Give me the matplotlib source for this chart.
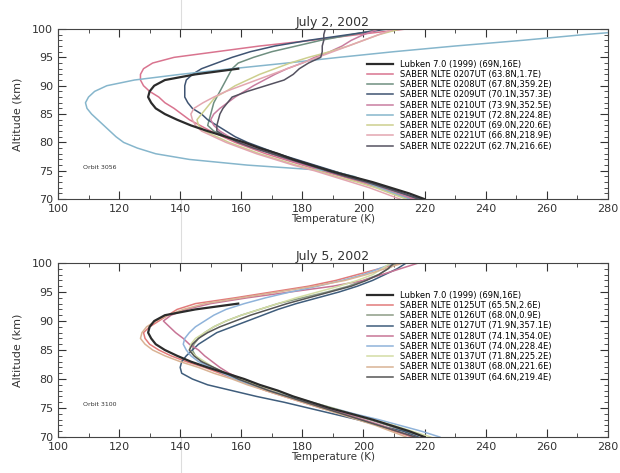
import matplotlib
matplotlib.use('Agg')
import matplotlib.pyplot as plt
from matplotlib.lines import Line2D
from matplotlib.ticker import MultipleLocator

# altitude grid (km) shared by the SABER profiles
alt_km = list(range(70, 101))

# Lubken 7.0 (1999) climatology, 70-93 km
lubken_alt = list(range(70, 94))
lubken_T = [220, 215, 209, 203, 196, 189, 183, 177, 172, 166, 161, 155, 149, 143.5,
            139, 135, 132, 130.5, 129.5, 130, 131.5, 135, 145, 159]

# ---- July 2, 2002 (orbit 3056) ----
jul2_labels = ['SABER NLTE 0207UT (63.8N,1.7E)', 'SABER NLTE 0208UT (67.8N,359.2E)',
               'SABER NLTE 0209UT (70.1N,357.3E)', 'SABER NLTE 0210UT (73.9N,352.5E)',
               'SABER NLTE 0219UT (72.8N,224.8E)', 'SABER NLTE 0220UT (69.0N,220.6E)',
               'SABER NLTE 0221UT (66.8N,218.9E)', 'SABER NLTE 0222UT (62.7N,216.6E)']
jul2_colors = ['#d9748f', '#6f8f80', '#3f5472', '#c97da0', '#86b6cc', '#cdcf8e', '#e3a6b0', '#555260']

t_0207 = [216, 210, 205, 199, 193, 186, 180, 174, 168, 163, 158, 154, 150, 146.5, 143, 140.5,
          138, 135, 133, 130, 128, 127, 127, 128, 131, 138, 152, 166, 183, 198, 214]
t_0208 = [218, 212, 207, 201, 195, 188, 182, 176, 170, 165, 160, 155, 151, 149, 149.5, 150,
          150.5, 151, 152, 153, 154, 155, 156, 157, 159, 164, 170, 178, 186, 196, 206]
t_0209 = [219, 213, 208, 202, 196, 190, 184, 178, 172, 167, 162, 158, 155, 152, 149, 147,
          144, 142.5, 141.5, 141.5, 141.5, 142, 144, 147, 152, 157, 163, 171, 182, 195, 208]
t_0210 = [217, 211, 206, 200, 194, 187, 181, 175, 170, 165, 160, 156, 153, 151, 150, 151,
          153, 155.5, 158, 161, 164, 167.5, 171, 175, 180, 184, 189, 193, 196, 200, 205]
t_0219 = [215, 210, 205, 201, 197, 189, 162, 143, 132, 126, 121.5, 119, 117, 115, 113, 111,
          109.5, 109, 110, 112, 116, 125, 140, 157, 175, 192, 210, 230, 252, 272, 295]
t_0220 = [214, 209, 204, 198, 191, 185, 178, 172, 166, 161, 156, 152, 148, 146, 145.5, 147,
          148.5, 150, 151.5, 155, 158, 162, 166, 171, 176, 182, 189, 195, 200, 205, 212]
t_0221 = [212, 207, 202, 196, 190, 184, 177, 171, 165, 160, 155, 151, 147, 145, 144, 143.5,
          144.5, 147.5, 151, 155, 160, 165, 170, 175, 180, 185, 190, 195, 200, 205, 210]
t_0222 = [218, 213, 207, 201, 194, 188, 182, 176, 170, 164, 159, 155, 152, 152, 152.5, 153,
          154, 155.5, 157, 162, 168, 174, 177, 179, 182, 186, 186.5, 186.5, 187, 187, 187.5]
jul2_T = [t_0207, t_0208, t_0209, t_0210, t_0219, t_0220, t_0221, t_0222]

# ---- July 5, 2002 (orbit 3100) ----
jul5_labels = ['SABER NLTE 0125UT (65.5N,2.6E)', 'SABER NLTE 0126UT (68.0N,0.9E)',
               'SABER NLTE 0127UT (71.9N,357.1E)', 'SABER NLTE 0128UT (74.1N,354.0E)',
               'SABER NLTE 0136UT (74.0N,228.4E)', 'SABER NLTE 0137UT (71.8N,225.2E)',
               'SABER NLTE 0138UT (68.0N,221.6E)', 'SABER NLTE 0139UT (64.6N,219.4E)']
jul5_colors = ['#e27a7a', '#8d9d86', '#3f5d7c', '#c77596', '#8fb3da', '#d3dda4', '#d9b394', '#555555']

t_0125 = [216, 210, 205, 199, 193, 186, 180, 174, 168, 163, 158, 153, 148, 142, 137, 133,
          130, 128.5, 128, 130, 133, 136, 139, 145, 158, 170, 182, 191, 198, 205, 212]
t_0126 = [220, 214, 208, 202, 195, 189, 182, 176, 170, 164, 159, 154, 150, 147, 145, 144,
          144.5, 146, 148, 151, 155, 160, 166, 172, 180, 188, 195, 200, 205, 208, 211]
t_0127 = [218, 213, 205, 198, 190, 182, 174, 165, 157, 149, 144, 140.5, 140, 140.5, 142, 144,
          146, 149, 152, 157, 162, 167, 172, 178, 185, 192, 198, 203, 207, 211, 214]
t_0128 = [217, 211, 206, 200, 194, 188, 181, 175, 170, 165, 160, 156, 153, 150.5, 148, 146,
          143, 141, 138.5, 136.5, 134.5, 137, 142, 150, 162, 176, 190, 200, 206, 212, 218]
t_0136 = [225, 219, 212, 205, 197, 190, 183, 176, 169, 163, 158, 154, 150, 146, 143.5, 142,
          141, 141.5, 143, 145, 148, 151, 155, 161, 168, 176, 185, 193, 200, 205, 210]
t_0137 = [222, 216, 210, 203, 196, 190, 183, 177, 171, 165, 160, 155, 151, 148, 145, 143,
          143.5, 145, 148, 151, 155, 160, 166, 172, 178, 185, 192, 198, 203, 206, 209]
t_0138 = [214, 209, 204, 198, 192, 186, 180, 174, 168, 162, 157, 151, 146, 140, 135, 131,
          128.5, 127, 127.5, 129, 132, 136, 141, 148, 160, 172, 184, 194, 201, 207, 213]
t_0139 = [217, 211, 205, 199, 193, 187, 181, 175, 169, 164, 159, 155, 151, 147, 144.5, 143,
          144, 146, 149, 153, 158, 163, 169, 175, 182, 189, 196, 201, 205, 208, 210]
jul5_T = [t_0125, t_0126, t_0127, t_0128, t_0136, t_0137, t_0138, t_0139]

panels = [
    ('July 2, 2002', 'Orbit 3056', jul2_labels, jul2_colors, jul2_T, 0.84),
    ('July 5, 2002', 'Orbit 3100', jul5_labels, jul5_colors, jul5_T, 0.86),
]

plt.rcParams['font.family'] = 'DejaVu Sans'
fig = plt.figure(figsize=(6.2, 4.73), dpi=100)
ax_top = fig.add_axes([0.0935, 0.579, 0.887, 0.3597])
ax_bot = fig.add_axes([0.0935, 0.076, 0.887, 0.368])

for ax, (title, orbit, labels, colors, temps, leg_y) in zip([ax_top, ax_bot], panels):
    ax.plot(lubken_T, lubken_alt, color='#2b2b2b', lw=1.6, label='Lubken 7.0 (1999) (69N,16E)', zorder=5)
    for lab, col, t in zip(labels, colors, temps):
        ax.plot(t, alt_km, color=col, lw=1.1, label=lab)
    ax.set_xlim(100, 280)
    ax.set_ylim(70, 100)
    ax.xaxis.set_major_locator(MultipleLocator(20))
    ax.xaxis.set_minor_locator(MultipleLocator(10))
    ax.yaxis.set_major_locator(MultipleLocator(5))
    ax.yaxis.set_minor_locator(MultipleLocator(1))
    ax.tick_params(which='both', direction='in', top=True, right=True, labelsize=8, colors='#333333')
    ax.tick_params(which='major', length=6)
    ax.tick_params(which='minor', length=3)
    for s in ax.spines.values():
        s.set_color('#444444')
        s.set_linewidth(0.8)
    ax.set_title(title, fontsize=9, pad=2, color='#333333')
    ax.set_xlabel('Temperature (K)', fontsize=7.5, labelpad=0, color='#333333')
    ax.set_ylabel('Altitude (km)', fontsize=8, labelpad=7, color='#333333')
    ax.text(0.045, 0.18, orbit, transform=ax.transAxes, fontsize=4.5, color='#333333')
    ax.legend(loc='upper left', bbox_to_anchor=(0.555, leg_y), frameon=False, fontsize=6,
              handlelength=3.2, handletextpad=0.8, labelspacing=0.15, borderaxespad=0)

# faint scan fold line
fig.add_artist(Line2D([0.292, 0.292], [0, 1], color='#dddddd', lw=0.8, zorder=0))

plt.savefig('out.png', dpi=100)
